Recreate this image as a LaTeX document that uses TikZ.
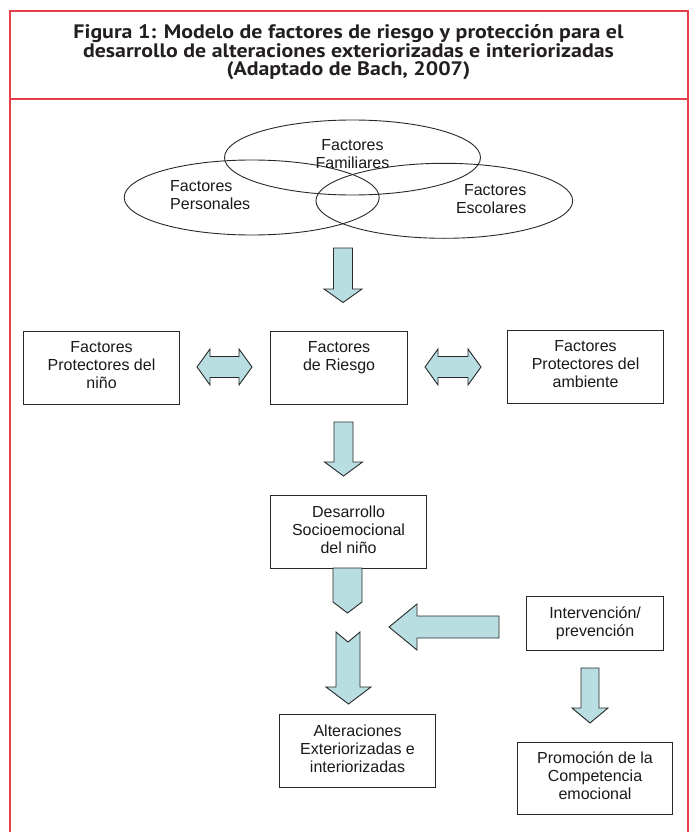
\documentclass[tikz,border=0pt]{standalone}
\usepackage{graphicx}
\usepackage{fontspec}
\setmainfont{Liberation Sans}
\newfontfamily\titlefam{PT Sans}
\usetikzlibrary{shapes.geometric}
\definecolor{framered}{RGB}{232,62,72}
\definecolor{arrowfill}{RGB}{184,222,225}
\definecolor{inkgray}{RGB}{35,31,32}
\definecolor{boxline}{RGB}{40,40,40}
\newlength\titlew
\newcommand\titlefont{\titlefam\bfseries\fontsize{19.5}{22}\selectfont}
\begin{document}
\settowidth\titlew{\titlefont Figura 1: Modelo de factores de riesgo y protección para el}%
\pgfmathsetmacro\tsx{550/\titlew}%
\begin{tikzpicture}[x=1pt,y=-1pt,
  framestyle/.style={draw=framered, line width=1.5pt},
  boxnode/.style={draw=boxline, line width=1.1pt, rectangle, inner sep=0pt, anchor=north west},
  ellnode/.style={draw=boxline, line width=0.9pt, ellipse, inner sep=0pt},
  txt/.style={font=\fontsize{16}{18}\selectfont, align=center, inner sep=0pt, text=black!90},
  titletxt/.style={font=\titlefont, text=inkgray, inner sep=0pt, anchor=base},
  blk/.style={draw=boxline, line width=0.9pt, fill=arrowfill, line join=miter}]
\useasboundingbox (0,0) rectangle (690,832);

% frame
\draw[framestyle] (10,832) -- (10,11) -- (688,11) -- (688,832);
\draw[framestyle] (10,99) -- (688,99);

% title
\node[titletxt] (t1) at (348.5,39) {\scalebox{\tsx}[1]{Figura 1: Modelo de factores de riesgo y protección para el}};
\node[titletxt] (t2) at (348.5,57.5) {\scalebox{\tsx}[1]{desarrollo de alteraciones exteriorizadas e interiorizadas}};
\node[titletxt] (t3) at (348.5,75.5) {\scalebox{\tsx}[1]{(Adaptado de Bach, 2007)}};

% ellipses
\node[ellnode, minimum width=256, minimum height=75] (fam) at (352.5,157.5) {};
\node[ellnode, minimum width=255, minimum height=75] (per) at (251.7,197.5) {};
\node[ellnode, minimum width=256.7, minimum height=75] (esc) at (444.3,200.8) {};
\node[txt, anchor=north] (famt) at (352.5,139.3) {Factores\\Familiares};
\node[txt, anchor=north west, align=left] (pert) at (170,180.2) {Factores\\Personales};
\node[txt, anchor=north east, align=right] (esct) at (526.5,184.3) {Factores\\Escolares};

% boxes
\node[boxnode, minimum width=156, minimum height=73] (pn) at (23,331) {};
\node[boxnode, minimum width=137, minimum height=73] (risk) at (270,331) {};
\node[boxnode, minimum width=156, minimum height=73] (pa) at (507,330) {};
\node[boxnode, minimum width=156, minimum height=73] (des) at (270,495) {};
\node[boxnode, minimum width=156, minimum height=73] (alt) at (279,714) {};
\node[boxnode, minimum width=137, minimum height=54] (int) at (526,596) {};
\node[boxnode, minimum width=155, minimum height=72] (prom) at (517,742) {};

\node[txt, anchor=north] (pntx) at ([yshift=-10.5pt]pn.north) {Factores\\Protectores del\\niño};
\node[txt, anchor=north] (risktx) at ([yshift=-10.5pt]risk.north) {Factores\\de Riesgo};
\node[txt, anchor=north] (patx) at ([yshift=-10.5pt]pa.north) {Factores\\Protectores del\\ambiente};
\node[txt, anchor=north] (destx) at ([yshift=-10.5pt]des.north) {Desarrollo\\Socioemocional\\del niño};
\node[txt, anchor=north] (alttx) at ([yshift=-10.5pt]alt.north) {Alteraciones\\Exteriorizadas e\\interiorizadas};
\node[txt, anchor=north] (inttx) at ([yshift=-10.5pt]int.north) {Intervención/\\prevención};
\node[txt, anchor=north] (promtx) at ([yshift=-10pt]prom.north) {Promoción de la\\Competencia\\emocional};

% block arrows
% ellipses -> risk
\draw[blk] (333.5,248) -- (352.5,248) -- (352.5,289) -- (362,289) -- (343,302.5) -- (324,289) -- (333.5,289) -- cycle;
% double arrows
\draw[blk] (197,367) -- (210,349) -- (210,356.5) -- (239,356.5) -- (239,349) -- (252,367) -- (239,385) -- (239,377.5) -- (210,377.5) -- (210,385) -- cycle;
\draw[blk] (425,367) -- (438,349) -- (438,356.5) -- (468,356.5) -- (468,349) -- (481,367) -- (468,385) -- (468,377.5) -- (438,377.5) -- (438,385) -- cycle;
% risk -> des
\draw[blk] (334,422) -- (353,422) -- (353,462) -- (362.5,462) -- (343.5,476) -- (324.5,462) -- (334,462) -- cycle;
% des pentagon
\draw[blk] (333,568) -- (333,602) -- (347.5,613) -- (362,602) -- (362,568) -- cycle;
% chevron arrow -> alt
\draw[blk] (336,632) -- (348,642) -- (360,632) -- (360,687) -- (371,687) -- (348.5,704) -- (326,687) -- (336,687) -- cycle;
% int -> left
\draw[blk] (389,627) -- (417,604) -- (417,616) -- (499,616) -- (499,638) -- (417,638) -- (417,650) -- cycle;
% int -> prom
\draw[blk] (581,668) -- (599,668) -- (599,708) -- (608,708) -- (590,723) -- (572,708) -- (581,708) -- cycle;
\end{tikzpicture}
\end{document}
